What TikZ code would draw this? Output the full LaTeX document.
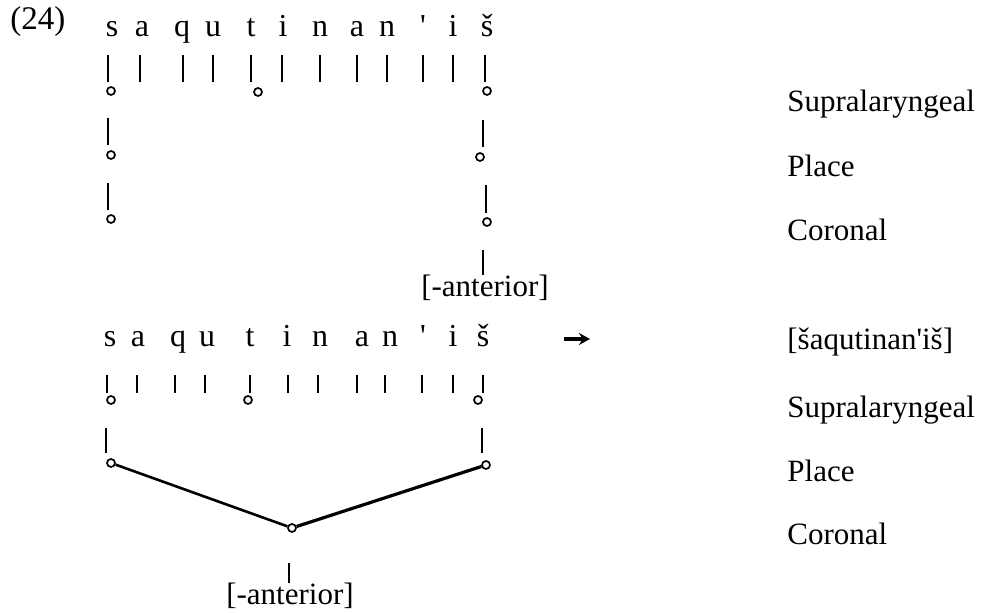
\documentclass[tikz,border=0pt]{standalone}
\usepackage{fontspec}
\setmainfont{Liberation Serif}
\usetikzlibrary{arrows.meta}
\newcommand{\txtfont}{\fontsize{15.5}{18}\selectfont}
\newcommand{\segfontx}{\fontsize{16}{18}\selectfont}
\begin{document}
\begin{tikzpicture}[x=0.5pt,y=-0.5pt,
  seg/.style={font=\segfontx, anchor=base, inner sep=0pt},
  lab/.style={font=\txtfont, anchor=base west, inner sep=0pt},
  feat/.style={font=\txtfont, anchor=base, inner sep=0pt},
  dot/.style={circle, draw, line width=0.85pt, minimum size=4pt, inner sep=0pt},
  tick/.style={line width=0.9pt},
  assoc/.style={line width=1.3pt}]
\useasboundingbox (0,0) rectangle (982,613);

% example number
\node[lab, font=\fontsize{16.5}{18}\selectfont] (num) at (10,30) {(24)};

% ---------- top row ----------
\foreach \i/\x/\sx/\l in {1/112/108/s, 2/142/140/a, 3/182/183/q, 4/213/213/u,
  5/251/251/t, 6/283/282/i, 7/320/320/n, 8/357/357/a, 9/387/387/n,
  10/423/423/{\textquotesingle}, 11/453/453/i, 12/487/485/š} {
  \node[seg] (t\i) at (\x,37) {\l};
  \coordinate (ta\i) at (\sx,55);
  \coordinate (tb\i) at (\sx,82);
  \draw[tick] (ta\i) -- (tb\i);
}
\node[dot] (ts) at (111,91) {};
\node[dot] (tt) at (258,92) {};
\node[dot] (tš) at (487,91) {};
\node[dot] (tsP) at (111,155) {};
\node[dot] (tsC) at (111,219) {};
\node[dot] (tšP) at (480,157) {};
\node[dot] (tšC) at (487,222) {};

\coordinate (l1a) at (108,118); \coordinate (l1b) at (108,145);
\coordinate (l2a) at (108,183); \coordinate (l2b) at (108,210);
\coordinate (r1a) at (483,120); \coordinate (r1b) at (483,147);
\coordinate (r2a) at (486,185); \coordinate (r2b) at (486,213);
\coordinate (r3a) at (483,250); \coordinate (r3b) at (483,275);
\draw[tick] (l1a) -- (l1b);
\draw[tick] (l2a) -- (l2b);
\draw[tick] (r1a) -- (r1b);
\draw[tick] (r2a) -- (r2b);
\draw[tick] (r3a) -- (r3b);
\node[feat] (antA) at (485,297) {[-anterior]};

\node[lab] (supA) at (787,112) {Supralaryngeal};
\node[lab] (plA) at (787,177) {Place};
\node[lab] (coA) at (787,241) {Coronal};

% ---------- bottom row ----------
\foreach \i/\x/\sx/\l in {1/110/107/s, 2/138/137/a, 3/178/175/q, 4/207/205/u,
  5/250/250/t, 6/287/288/i, 7/320/318/n, 8/362/357/a, 9/390/385/n,
  10/423/422/{\textquotesingle}, 11/453/453/i, 12/483/483/š} {
  \node[seg] (b\i) at (\x,347) {\l};
  \coordinate (ba\i) at (\sx,375);
  \coordinate (bb\i) at (\sx,393);
  \draw[tick] (ba\i) -- (bb\i);
}
\node[dot] (bs) at (111,400) {};
\node[dot] (bt) at (248,400) {};
\node[dot] (bš) at (478,400) {};

\coordinate (bl1) at (106,428); \coordinate (bl2) at (106,453);
\coordinate (br1) at (482,428); \coordinate (br2) at (482,453);
\draw[tick] (bl1) -- (bl2);
\draw[tick] (br1) -- (br2);

\node[dot] (bL) at (111,463) {};
\node[dot] (bM) at (292,528) {};
\node[dot] (bR) at (486,465) {};
\draw[assoc] (bL) -- (bM);
\draw[assoc, line width=1.6pt] (bM) -- (bR);

\coordinate (bm1) at (289,563); \coordinate (bm2) at (289,583);
\draw[tick] (bm1) -- (bm2);
\node[feat] (antB) at (290,605) {[-anterior]};

% arrow and output form
\coordinate (ar1) at (564,339); \coordinate (ar2) at (590,339);
\draw[line width=1.6pt, -{Stealth[length=5.5pt,width=6pt]}] (ar1) -- (ar2);
\node[lab] (out) at (787,350) {[šaqutinan\textquotesingle iš]};

\node[lab] (supB) at (787,418) {Supralaryngeal};
\node[lab] (plB) at (787,482) {Place};
\node[lab] (coB) at (787,545) {Coronal};
\end{tikzpicture}
\end{document}
